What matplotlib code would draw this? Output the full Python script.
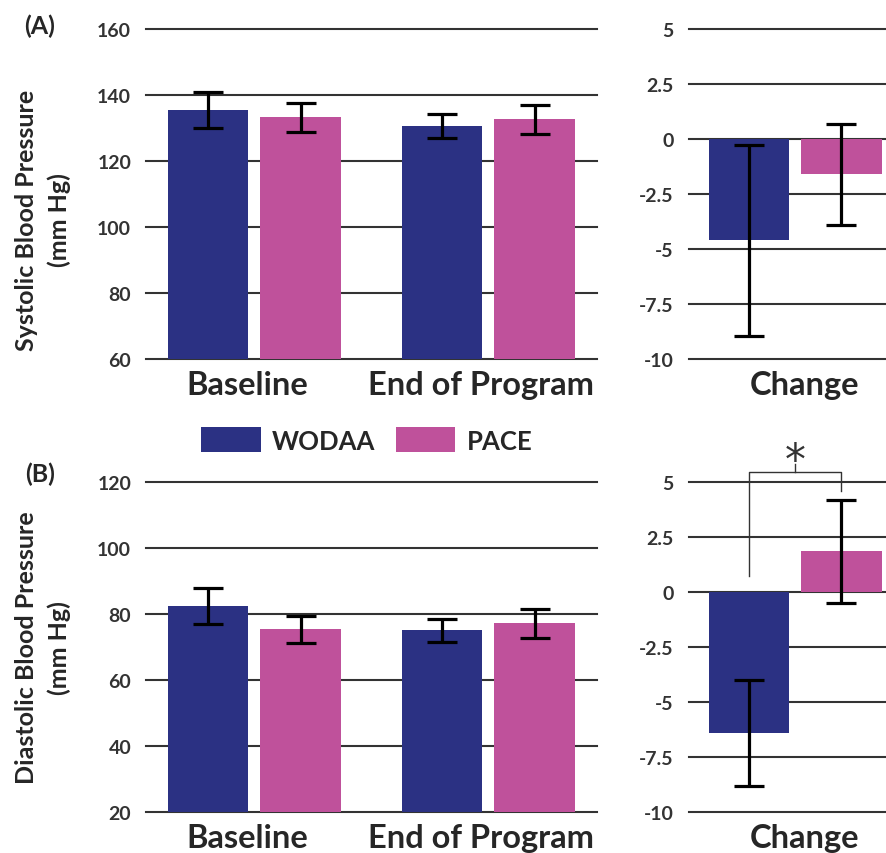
import matplotlib
matplotlib.use("Agg")
import matplotlib.pyplot as plt
import numpy as np
from matplotlib.patches import Patch

plt.rcParams['font.family'] = ['Lato', 'DejaVu Sans']
plt.rcParams['font.weight'] = 'bold'

# ---------------- data ----------------
categories = ['Baseline', 'End of Program']
change_label = ['Change']
groups = ['WODAA', 'PACE']

sbp_wodaa = [135.5, 130.7]
sbp_wodaa_err = [5.4, 3.6]
sbp_pace = [133.2, 132.6]
sbp_pace_err = [4.3, 4.4]
sbp_change = [-4.6, -1.6]
sbp_change_err = [4.35, 2.3]

dbp_wodaa = [82.6, 75.2]
dbp_wodaa_err = [5.4, 3.5]
dbp_pace = [75.4, 77.3]
dbp_pace_err = [4.2, 4.4]
dbp_change = [-6.4, 1.85]
dbp_change_err = [2.4, 2.33]

sbp_ticks = [60, 80, 100, 120, 140, 160]
dbp_ticks = [20, 40, 60, 80, 100, 120]
change_ticks = [-10, -7.5, -5, -2.5, 0, 2.5, 5]
change_ticklabels = ['-10', '-7.5', '-5', '-2.5', '0', '2.5', '5']

# ---------------- style ----------------
C_W = '#2B3183'
C_P = '#BF519B'
GRID = '#333333'
TXT = '#333333'
W = 0.344
OFF = 0.198
ERRKW = dict(ecolor='black', elinewidth=2.3, capsize=11, capthick=2.3)

W_PX, H_PX = 887, 854
fig = plt.figure(figsize=(W_PX / 100, H_PX / 100), dpi=100)


def rect(x0, y0, x1, y1):
    return [x0 / W_PX, 1 - y1 / H_PX, (x1 - x0) / W_PX, (y1 - y0) / H_PX]


def style(ax, ticks, ticklabels=None):
    ax.set_yticks(ticks)
    if ticklabels is None:
        ticklabels = [f'{t:g}' for t in ticks]
    ax.set_yticklabels(ticklabels)
    ax.set_ylim(ticks[0], ticks[-1])
    for s in ax.spines.values():
        s.set_visible(False)
    ax.tick_params(axis='y', length=0, pad=11, labelsize=14, labelcolor=TXT)
    ax.tick_params(axis='x', length=0, pad=8, labelsize=23.5, labelcolor='#262626')
    for t in ticks:
        ax.axhline(t, color=GRID, lw=1.5, zorder=0, clip_on=False)
    for lab in ax.get_yticklabels() + ax.get_xticklabels():
        lab.set_fontweight('bold')


def main_panel(ax, wod, wod_e, pac, pac_e, ticks):
    x = np.arange(len(categories))
    ax.bar(x - OFF, wod, W, color=C_W, zorder=2)
    ax.errorbar(x - OFF, wod, yerr=wod_e, fmt='none', zorder=3, **ERRKW)
    ax.bar(x + OFF, pac, W, color=C_P, zorder=2)
    ax.errorbar(x + OFF, pac, yerr=pac_e, fmt='none', zorder=3, **ERRKW)
    ax.set_xlim(-0.461, 1.464)
    ax.set_xticks(x - 0.03)
    ax.set_xticklabels(categories)
    style(ax, ticks)


def change_panel(ax, vals, errs):
    xs = [-OFF, OFF]
    cols = [C_W, C_P]
    for xi, v, e, c in zip(xs, vals, errs, cols):
        ax.bar(xi, v, W, color=c, zorder=2)
        ax.errorbar(xi, v, yerr=e, fmt='none', zorder=3, **ERRKW)
    ax.set_xlim(-0.454, 0.393)
    ax.set_xticks([0.04])
    ax.set_xticklabels(change_label)
    style(ax, change_ticks, change_ticklabels)


axA = fig.add_axes(rect(146.5, 30, 597, 360))
main_panel(axA, sbp_wodaa, sbp_wodaa_err, sbp_pace, sbp_pace_err, sbp_ticks)
axA2 = fig.add_axes(rect(689, 30, 887, 360))
change_panel(axA2, sbp_change, sbp_change_err)

axB = fig.add_axes(rect(146.5, 483.3, 597, 813.3))
main_panel(axB, dbp_wodaa, dbp_wodaa_err, dbp_pace, dbp_pace_err, dbp_ticks)
axB2 = fig.add_axes(rect(689, 483, 887, 813.3))
change_panel(axB2, dbp_change, dbp_change_err)

# significance bracket
bk = dict(color='#333333', lw=1.0, clip_on=False, zorder=4)
axB2.plot([-OFF, -OFF, OFF, OFF], [0.75, 5.45, 5.45, 4.6], **bk)
axB2.plot([0, 0], [5.45, 5.8], **bk)
axB2.text(0, 5.95, '*', ha='center', va='center', fontsize=30,
          fontweight='normal', color='#333333', family=['DejaVu Sans'])

# y labels
fig.text(43 / W_PX, 1 - 220 / H_PX, 'Systolic Blood Pressure\n(mm Hg)',
         rotation=90, ha='center', va='center', fontsize=18,
         fontweight='bold', color='#262626', linespacing=1.45, multialignment='center')
fig.text(43 / W_PX, 1 - 648 / H_PX, 'Diastolic Blood Pressure\n(mm Hg)',
         rotation=90, ha='center', va='center', fontsize=18,
         fontweight='bold', color='#262626', linespacing=1.45, multialignment='center')

# panel labels
fig.text(40 / W_PX, 1 - 26 / H_PX, '(A)', ha='center', va='center',
         fontsize=18, fontweight='bold', color='#262626')
fig.text(40 / W_PX, 1 - 474 / H_PX, '(B)', ha='center', va='center',
         fontsize=18, fontweight='bold', color='#262626')

# legend
handles = [Patch(facecolor=C_W, label=groups[0]), Patch(facecolor=C_P, label=groups[1])]
leg = fig.legend(handles=handles, loc='center', bbox_to_anchor=(367 / W_PX, 1 - 441 / H_PX),
                 ncol=2, frameon=False, fontsize=18.5, handlelength=2.3, handleheight=1.1,
                 handletextpad=0.45, columnspacing=0.8, borderpad=0)
for t in leg.get_texts():
    t.set_fontweight('bold')
    t.set_color('#262626')

fig.savefig('out.png', dpi=100)
